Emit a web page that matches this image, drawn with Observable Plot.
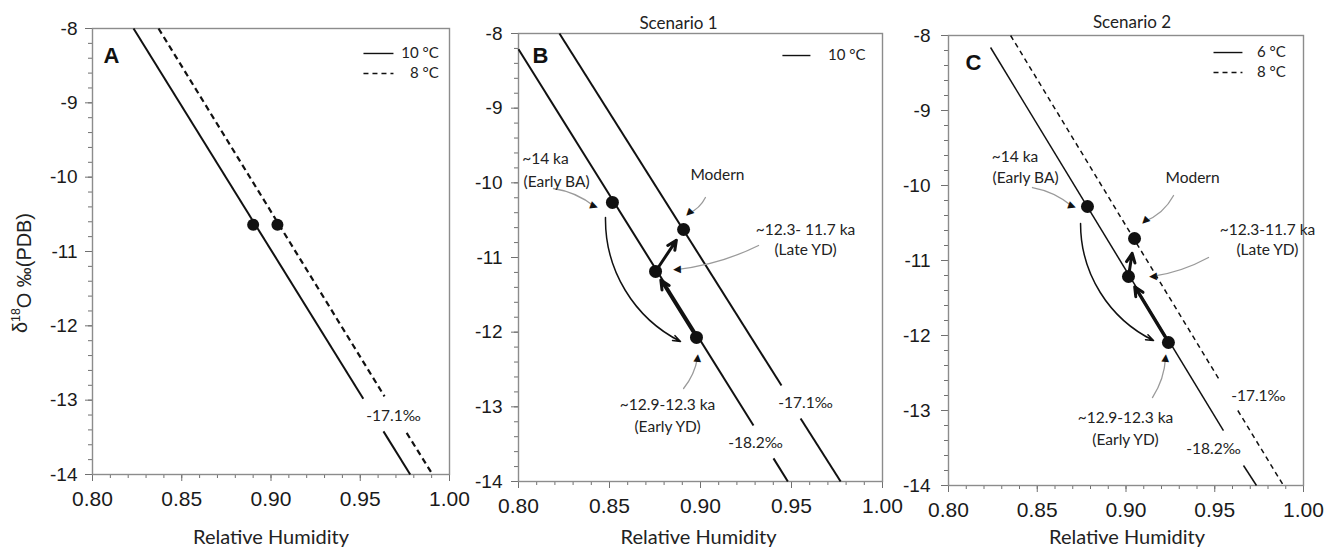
<!DOCTYPE html>
<html><head><meta charset="utf-8">
<script src="https://cdn.jsdelivr.net/npm/d3@7"></script>
<script src="https://cdn.jsdelivr.net/npm/@observablehq/plot@0.6"></script>
<style>
body{margin:0;background:#fff;}
#root{position:relative;width:1325px;height:547px;overflow:hidden;background:#fff;}
.panel{position:absolute;top:0;}
</style></head><body><div id="root"></div>
<script>
// ---------- ticks ----------
const xMajor = [0.80, 0.85, 0.90, 0.95, 1.00];
const yMajor = [-14, -13, -12, -11, -10, -9, -8];
const xMinor = d3.range(0, 21).map(i => 0.80 + i * 0.01);
const yMinor = d3.range(0, 31).map(i => -14 + i * 0.2);

// ---------- Panel A ----------
const segA = [
  {temp: "10 °C", rh1: 0.823, d1: -8, rh2: 0.9517, d2: -12.98},
  {temp: "10 °C", rh1: 0.963, d1: -13.42, rh2: 0.978, d2: -14},
  {temp: "8 °C", rh1: 0.837, d1: -8, rh2: 0.9636, d2: -12.95},
  {temp: "8 °C", rh1: 0.976, d1: -13.44, rh2: 0.9905, d2: -14}
];
const ptsA = [
  {temp: "10 °C", rh: 0.890, d: -10.64},
  {temp: "8 °C", rh: 0.9036, d: -10.64}
];
const isoA = [{t: "-17.1‰", rh: 0.9686, d: -13.22}];
const legA = [
  {t: "10 °C", temp: "10 °C", rh1: 0.9518, rh2: 0.9686, rhT: 0.994, d: -8.336},
  {t: "8 °C", temp: "8 °C", rh1: 0.9518, rh2: 0.9686, rhT: 0.994, d: -8.605}
];

// ---------- Panel B ----------
const segB = [
  {iso: "-18.2‰", rh1: 0.80, d1: -8.21, rh2: 0.9291, d2: -13.25},
  {iso: "-18.2‰", rh1: 0.9401, d1: -13.69, rh2: 0.948, d2: -14},
  {iso: "-17.1‰", rh1: 0.8225, d1: -8, rh2: 0.9445, d2: -12.714},
  {iso: "-17.1‰", rh1: 0.955, d1: -13.156, rh2: 0.977, d2: -14}
];
const ptsB = [
  {name: "~14 ka", rh: 0.8516, d: -10.263},
  {name: "Modern", rh: 0.8907, d: -10.625},
  {name: "Late YD", rh: 0.8753, d: -11.187},
  {name: "Early YD", rh: 0.8978, d: -12.071}
];
const curveB = [{rh1: 0.8478, d1: -10.464, rh2: 0.8890, d2: -12.125}];
const grayB = [
  {rh1: 0.8192, d1: -10.076, rh2: 0.8418, d2: -10.317, dir: 110},
  {rh1: 0.9027, d1: -10.196, rh2: 0.8934, d2: -10.411, dir: 225},
  {rh1: 0.9319, d1: -10.839, rh2: 0.8868, d2: -11.161, dir: 268},
  {rh1: 0.8907, d1: -12.754, rh2: 0.8984, d2: -12.339, dir: 5}
];
const bendB = [15, 20, 10, -15];
const annB = [
  {t: "~14 ka", rh: 0.8148, d: -9.687},
  {t: "(Early BA)", rh: 0.8209, d: -9.995},
  {t: "Modern", rh: 0.9093, d: -9.902},
  {t: "~12.3- 11.7 ka", rh: 0.9577, d: -10.638},
  {t: "(Late YD)", rh: 0.9577, d: -10.906},
  {t: "~12.9-12.3 ka", rh: 0.8819, d: -12.982},
  {t: "(Early YD)", rh: 0.8819, d: -13.277}
];
const isoB = [
  {t: "-17.1‰", rh: 0.9577, d: -12.955},
  {t: "-18.2‰", rh: 0.9302, d: -13.491}
];
const legB = [{t: "10 °C", rh1: 0.945, rh2: 0.9604, rhT: 0.9907, d: -8.295}];

// ---------- Panel C ----------
const segC = [
  {temp: "6 °C", rh1: 0.8237, d1: -8.16, rh2: 0.9549, d2: -13.267},
  {temp: "6 °C", rh1: 0.9662, d1: -13.733, rh2: 0.9735, d2: -14},
  {temp: "8 °C", rh1: 0.835, d1: -8, rh2: 0.9528, d2: -12.6},
  {temp: "8 °C", rh1: 0.9630, d1: -13.0, rh2: 0.9887, d2: -14}
];
const ptsC = [
  {name: "~14 ka", rh: 0.8783, d: -10.28},
  {name: "Modern", rh: 0.9048, d: -10.707},
  {name: "Late YD", rh: 0.9014, d: -11.213},
  {name: "Early YD", rh: 0.9239, d: -12.093}
];
const curveC = [{rh1: 0.8744, d1: -10.507, rh2: 0.9155, d2: -12.067}];
const grayC = [
  {rh1: 0.8473, d1: -10.027, rh2: 0.8699, d2: -10.28, dir: 110},
  {rh1: 0.9268, d1: -10.133, rh2: 0.9104, d2: -10.48, dir: 225},
  {rh1: 0.9465, d1: -10.96, rh2: 0.9149, d2: -11.213, dir: 268},
  {rh1: 0.9149, d1: -12.827, rh2: 0.9223, d2: -12.293, dir: 5}
];
const bendC = [15, 20, 10, -15];
const annC = [
  {t: "~14 ka", rh: 0.8375, d: -9.627},
  {t: "(Early BA)", rh: 0.8434, d: -9.907},
  {t: "Modern", rh: 0.9375, d: -9.907},
  {t: "~12.3-11.7 ka", rh: 0.9797, d: -10.6},
  {t: "(Late YD)", rh: 0.9797, d: -10.867},
  {t: "~12.9-12.3 ka", rh: 0.8997, d: -13.107},
  {t: "(Early YD)", rh: 0.8997, d: -13.4}
];
const isoC = [
  {t: "-17.1‰", rh: 0.9746, d: -12.813},
  {t: "-18.2‰", rh: 0.9493, d: -13.52}
];
const legC = [
  {t: "6 °C", temp: "6 °C", rh1: 0.9493, rh2: 0.9656, rhT: 0.990, d: -8.227},
  {t: "8 °C", temp: "8 °C", rh1: 0.9493, rh2: 0.9656, rhT: 0.990, d: -8.493}
];

// ---------- drawing ----------
const FA = "'Liberation Sans', Arial, sans-serif";
const FT = "Lato, 'Open Sans', sans-serif";
const INK = "#111";

function basePlot(o) {
  return Plot.plot({
    width: o.width, height: 547,
    marginLeft: o.ml, marginRight: o.mr, marginTop: o.mt, marginBottom: o.mb,
    x: {domain: [0.8, 1.0]},
    y: {domain: [-14, -8]},
    style: {fontFamily: FA, background: "transparent", color: "#1a1a1a", overflow: "visible"},
    marks: [
      Plot.axisX({ticks: xMinor, tickSize: 4, tickFormat: () => "", label: null, stroke: "#707070"}),
      Plot.axisX({ticks: xMajor, tickSize: 7, tickPadding: 10, tickFormat: d3.format(".2f"), fontSize: 21, label: null, stroke: "#707070"}),
      Plot.axisY({ticks: yMinor, tickSize: 4, tickFormat: () => "", label: null, stroke: "#707070"}),
      Plot.axisY({ticks: yMajor, tickSize: 7, tickPadding: o.yPad, tickFormat: d => String(d), fontSize: 19, label: null, stroke: "#707070"}),
      Plot.frame({stroke: "#8c8c8c", strokeWidth: 1.4}),
      ...o.marks
    ]
  });
}

const linkOpts = {x1: "rh1", y1: "d1", x2: "rh2", y2: "d2"};
const txt = (data, extra) => Plot.text(data, {x: "rh", y: "d", text: "t", fontFamily: FT, fontSize: 15.5, fill: "#222", lineAnchor: "middle", ...extra});

function scenarioMarks(pts, curve, gray, bends, ann, iso, ins) {
  const by = Object.fromEntries(pts.map(p => [p.name, p]));
  const a1 = [{rh1: by["Early YD"].rh, d1: by["Early YD"].d, rh2: by["Late YD"].rh, d2: by["Late YD"].d}];
  const a2 = [{rh1: by["Late YD"].rh, d1: by["Late YD"].d, rh2: by["Modern"].rh, d2: by["Modern"].d}];
  return [
    ...gray.map((g, i) => Plot.arrow([g], {...linkOpts, bend: bends[i], stroke: "#9a9a9a", strokeWidth: 1.3, headLength: 0})),
    Plot.text(gray, {x: "rh2", y: "d2", text: () => "▲", rotate: "dir", fontFamily: "DejaVu Sans", fontSize: 10, fill: INK, lineAnchor: "middle"}),
    Plot.arrow(curve, {...linkOpts, bend: -32, stroke: INK, strokeWidth: 1.5, headLength: 8, headAngle: 40}),
    Plot.arrow(a1, {...linkOpts, stroke: INK, strokeWidth: 3, headLength: 5, headAngle: 50, insetStart: 7, insetEnd: ins[0]}),
    Plot.arrow(a2, {...linkOpts, stroke: INK, strokeWidth: 3, headLength: 5, headAngle: 50, insetStart: 3, insetEnd: ins[1]}),
    Plot.dot(pts, {x: "rh", y: "d", r: 6.5, fill: INK}),
    txt(ann),
    txt(iso)
  ];
}

const root = document.getElementById("root");
function place(svg, left) {
  const div = document.createElement("div");
  div.className = "panel";
  div.style.left = left + "px";
  div.appendChild(svg);
  root.appendChild(div);
}

const YLAB = "δ18O ‰(PDB)";

// Panel A
const svgA = basePlot({
  width: 460, ml: 92, mr: 11, mt: 28, mb: 73, yPad: 8,
  marks: [
    Plot.link(segA.filter(d => d.temp === "10 °C"), {...linkOpts, stroke: INK, strokeWidth: 2}),
    Plot.link(segA.filter(d => d.temp === "8 °C"), {...linkOpts, stroke: INK, strokeWidth: 2.2, strokeDasharray: "6,4"}),
    Plot.dot(ptsA, {x: "rh", y: "d", r: 6, fill: INK}),
    txt(isoA),
    Plot.link(legA.filter(d => d.temp === "10 °C"), {x1: "rh1", x2: "rh2", y1: "d", y2: "d", stroke: INK, strokeWidth: 1.4}),
    Plot.link(legA.filter(d => d.temp === "8 °C"), {x1: "rh1", x2: "rh2", y1: "d", y2: "d", stroke: INK, strokeWidth: 1.4, strokeDasharray: "5,4"}),
    Plot.text(legA, {x: "rhT", y: "d", text: "t", textAnchor: "end", fontFamily: FT, fontSize: 15, fill: "#222"}),
    Plot.text(["A"], {frameAnchor: "top-left", text: d => d, dx: 11, dy: 27, textAnchor: "start", lineAnchor: "middle", fontSize: 22, fontWeight: "bold", fill: INK}),
    Plot.text(["Relative Humidity"], {frameAnchor: "bottom", text: d => d, dy: 63, lineAnchor: "middle", fontFamily: FT, fontSize: 20, fill: "#222"}),
    Plot.text([YLAB], {frameAnchor: "left", text: d => d, dx: -70, dy: 22, rotate: -90, textAnchor: "middle", lineAnchor: "middle", fontSize: 19, fill: "#222"})
  ]
});
place(svgA, 0);
// superscript and exact placement of the y-axis title
d3.select(svgA).selectAll("text").filter(function() { return this.textContent === YLAB; })
  .each(function() {
    const t = d3.select(this);
    t.text(null);
    t.append("tspan").text("δ");
    t.append("tspan").attr("dy", "-0.55em").attr("font-size", "0.62em").text("18");
    t.append("tspan").attr("dy", "0.55em").text("O ‰(PDB)");
    const el = this;
    let r = el.getBoundingClientRect();
    if (r.height > 0) {
      const fs = 19 * 120 / r.height;
      el.setAttribute("font-size", fs);
      r = el.getBoundingClientRect();
      const rr = root.getBoundingClientRect();
      const sx = 22 - (r.left - rr.left + r.width / 2);
      const sy = 273 - (r.top - rr.top + r.height / 2);
      el.setAttribute("transform", `translate(${sx},${sy}) ` + (el.getAttribute("transform") || ""));
    }
  });

// Panel B
const svgB = basePlot({
  width: 430, ml: 58, mr: 8, mt: 33, mb: 66, yPad: 9,
  marks: [
    Plot.link(segB, {...linkOpts, stroke: INK, strokeWidth: 2}),
    ...scenarioMarks(ptsB, curveB, grayB, bendB, annB, isoB, [10, 13]),
    Plot.link(legB, {x1: "rh1", x2: "rh2", y1: "d", y2: "d", stroke: INK, strokeWidth: 1.4}),
    Plot.text(legB, {x: "rhT", y: "d", text: "t", textAnchor: "end", fontFamily: FT, fontSize: 15, fill: "#222"}),
    Plot.text(["B"], {frameAnchor: "top-left", text: d => d, dx: 14, dy: 22, textAnchor: "start", lineAnchor: "middle", fontSize: 22, fontWeight: "bold", fill: INK}),
    Plot.text(["Scenario 1"], {frameAnchor: "top", text: d => d, dx: -22, dy: -10, lineAnchor: "middle", fontFamily: FT, fontSize: 17, fill: "#222"}),
    Plot.text(["Relative Humidity"], {frameAnchor: "bottom", text: d => d, dx: -2, dy: 56, lineAnchor: "middle", fontFamily: FT, fontSize: 20, fill: "#222"})
  ]
});
place(svgB, 460);

// Panel C
const svgC = basePlot({
  width: 435, ml: 58, mr: 22, mt: 35, mb: 62, yPad: 11,
  marks: [
    Plot.link(segC.filter(d => d.temp === "6 °C"), {...linkOpts, stroke: INK, strokeWidth: 1.5}),
    Plot.link(segC.filter(d => d.temp === "8 °C"), {...linkOpts, stroke: INK, strokeWidth: 1.5, strokeDasharray: "5,4"}),
    ...scenarioMarks(ptsC, curveC, grayC, bendC, annC, isoC, [12, 15]),
    Plot.link(legC.filter(d => d.temp === "6 °C"), {x1: "rh1", x2: "rh2", y1: "d", y2: "d", stroke: INK, strokeWidth: 1.4}),
    Plot.link(legC.filter(d => d.temp === "8 °C"), {x1: "rh1", x2: "rh2", y1: "d", y2: "d", stroke: INK, strokeWidth: 1.4, strokeDasharray: "5,4"}),
    Plot.text(legC, {x: "rhT", y: "d", text: "t", textAnchor: "end", fontFamily: FT, fontSize: 15, fill: "#222"}),
    Plot.text(["C"], {frameAnchor: "top-left", text: d => d, dx: 17, dy: 27, textAnchor: "start", lineAnchor: "middle", fontSize: 22, fontWeight: "bold", fill: INK}),
    Plot.text(["Scenario 2"], {frameAnchor: "top", text: d => d, dx: 6, dy: -13, lineAnchor: "middle", fontFamily: FT, fontSize: 17, fill: "#222"}),
    Plot.text(["Relative Humidity"], {frameAnchor: "bottom", text: d => d, dx: 1, dy: 52, lineAnchor: "middle", fontFamily: FT, fontSize: 20, fill: "#222"})
  ]
});
place(svgC, 890);
</script></body></html>
